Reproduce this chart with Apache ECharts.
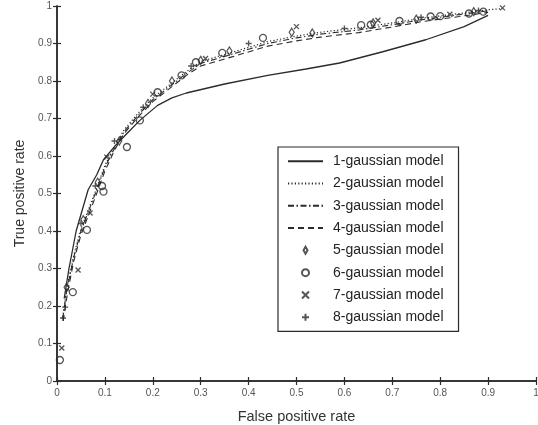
<!DOCTYPE html>
<html><head><meta charset="utf-8">
<script src="https://cdn.jsdelivr.net/npm/echarts@6/dist/echarts.min.js"></script>
<style>html,body{margin:0;padding:0;background:#fff}#c{width:538px;height:425px}</style>
</head><body><div id="c"></div>
<script>
// ---- data ----
const xTicks = [0,0.1,0.2,0.3,0.4,0.5,0.6,0.7,0.8,0.9,1];
const yTicks = [0,0.1,0.2,0.3,0.4,0.5,0.6,0.7,0.8,0.9,1];
const seriesNames = ['1-gaussian model','2-gaussian model','3-gaussian model','4-gaussian model','5-gaussian model','6-gaussian model','7-gaussian model','8-gaussian model'];

const fpr1 = [0.015,0.025,0.04,0.065,0.083,0.097,0.12,0.146,0.173,0.21,0.24,0.27,0.35,0.44,0.52,0.59,0.68,0.77,0.85,0.9];
const tpr1 = [0.22,0.30,0.40,0.51,0.55,0.59,0.625,0.66,0.695,0.735,0.755,0.768,0.792,0.815,0.832,0.848,0.878,0.91,0.945,0.975];

const fpr2 = [0.012,0.02,0.035,0.05,0.065,0.08,0.1,0.12,0.14,0.17,0.2,0.23,0.27,0.3,0.367,0.44,0.5,0.55,0.63,0.7,0.76,0.84,0.9,0.93];
const tpr2 = [0.17,0.245,0.335,0.405,0.455,0.505,0.575,0.625,0.67,0.715,0.755,0.785,0.825,0.852,0.877,0.905,0.92,0.93,0.942,0.955,0.967,0.98,0.99,0.993];

const fpr3 = [0.012,0.02,0.035,0.05,0.065,0.08,0.1,0.12,0.14,0.17,0.2,0.23,0.27,0.3,0.367,0.44,0.5,0.55,0.63,0.7,0.76,0.84,0.9];
const tpr3 = [0.165,0.24,0.33,0.40,0.45,0.50,0.57,0.62,0.665,0.71,0.75,0.78,0.82,0.847,0.872,0.9,0.915,0.925,0.936,0.95,0.963,0.977,0.987];

const fpr4 = [0.013,0.022,0.035,0.05,0.065,0.08,0.1,0.12,0.14,0.17,0.2,0.23,0.27,0.3,0.367,0.44,0.5,0.55,0.63,0.7,0.76,0.84,0.9];
const tpr4 = [0.16,0.235,0.32,0.39,0.44,0.49,0.56,0.615,0.66,0.705,0.745,0.775,0.815,0.84,0.865,0.893,0.907,0.917,0.929,0.944,0.958,0.972,0.983];

const fpr5 = [0.02,0.055,0.085,0.13,0.19,0.24,0.3,0.36,0.49,0.533,0.66,0.75,0.87];
const tpr5 = [0.25,0.43,0.53,0.64,0.74,0.80,0.855,0.88,0.93,0.928,0.955,0.965,0.985];

const fpr6 = [0.006,0.033,0.0625,0.094,0.097,0.146,0.173,0.21,0.26,0.29,0.345,0.43,0.635,0.655,0.715,0.78,0.80,0.86,0.89];
const tpr6 = [0.056,0.237,0.403,0.52,0.505,0.624,0.695,0.77,0.815,0.85,0.875,0.915,0.949,0.95,0.96,0.972,0.973,0.98,0.985];

const fpr7 = [0.01,0.044,0.069,0.104,0.2,0.31,0.5,0.67,0.82,0.93];
const tpr7 = [0.088,0.296,0.448,0.597,0.765,0.86,0.945,0.962,0.978,0.995];

const fpr8 = [0.0125,0.017,0.05,0.08,0.12,0.18,0.28,0.4,0.6,0.76,0.88];
const tpr8 = [0.168,0.197,0.42,0.52,0.64,0.73,0.84,0.9,0.94,0.97,0.988];

// ---- chart ----
const zip = (a,b) => a.map((v,i)=>[v,b[i]]);
const fmt = v => { const r = Math.round(v*10)/10; return r===0?'0':(r===1?'1':String(r)); };
const ink = '#2b2b2b';
const font = '"Liberation Sans", Arial, sans-serif';
const DIAMOND = 'path://M5,0L9,7L5,14L1,7Z';
const CROSS = 'path://M0,0L10,10M10,0L0,10';
const PLUS = 'path://M5,0L5,10M0,5L10,5';
const HIDE_SYM = {color:'rgba(0,0,0,0)', borderColor:'rgba(0,0,0,0)', borderWidth:0, opacity:0};

const axisCommon = {
  type:'value', min:0, max:1, interval:0.1,
  axisLine:{show:true, lineStyle:{color:ink, width:1.5}},
  axisTick:{show:true, inside:true, length:4, lineStyle:{color:ink, width:1.2}},
  splitLine:{show:false}
};

const lineSeries = (name, xs, ys, type, width) => ({
  name, type:'line', data: zip(xs,ys), symbol:'none', showSymbol:false, smooth:false,
  lineStyle:{color:ink, width, type}, itemStyle:{color:ink}, z:2
});
const markSeries = (name, xs, ys, symbol, size) => ({
  name, type:'scatter', data: zip(xs,ys), symbol, symbolSize:size,
  itemStyle:{color:'rgba(0,0,0,0)', borderColor:ink, borderWidth:1.3}, z:3
});

const chart = echarts.init(document.getElementById('c'), null, {renderer:'canvas'});
chart.setOption({
  animation:false,
  backgroundColor:'#fff',
  textStyle:{fontFamily:font},
  grid:{left:57, right:2, top:6, bottom:44, containLabel:false, outerBoundsMode:'none'},
  xAxis:[
    Object.assign({}, axisCommon, {position:'bottom',
      name:'False positive rate', nameLocation:'middle', nameGap:28,
      nameTextStyle:{fontSize:14.5, color:'#333', fontFamily:font},
      axisLabel:{show:true, margin:7, fontSize:10, color:'#555', fontFamily:font,
        formatter: v => { const i = xTicks.findIndex(t=>Math.abs(t-v)<1e-6); return i>=0?fmt(xTicks[i]):''; }}}),
    Object.assign({}, axisCommon, {position:'top', axisLabel:{show:false}})
  ],
  yAxis:[
    Object.assign({}, axisCommon, {position:'left',
      name:'True positive rate', nameLocation:'middle', nameGap:24,
      nameTextStyle:{fontSize:14, color:'#333', fontFamily:font},
      axisLabel:{show:true, margin:5, fontSize:10, color:'#555', fontFamily:font,
        formatter: v => { const i = yTicks.findIndex(t=>Math.abs(t-v)<1e-6); return i>=0?fmt(yTicks[i]):''; }}}),
    Object.assign({}, axisCommon, {position:'right', axisLabel:{show:false}})
  ],
  legend:{
    show:true, orient:'vertical', left:278, top:147,
    padding:[7,15,7,9], itemGap:8, itemWidth:35, itemHeight:7,
    borderColor:ink, borderWidth:1.2, backgroundColor:'#fff',
    textStyle:{fontSize:14, color:'#222', fontFamily:font, lineHeight:14.3, padding:[0,0,0,5]},
    data: [
      {name:seriesNames[0], icon:'inherit', itemStyle:HIDE_SYM},
      {name:seriesNames[1], icon:'inherit', itemStyle:HIDE_SYM},
      {name:seriesNames[2], icon:'inherit', itemStyle:HIDE_SYM},
      {name:seriesNames[3], icon:'inherit', itemStyle:HIDE_SYM},
      {name:seriesNames[4], icon:DIAMOND},
      {name:seriesNames[5], icon:'circle'},
      {name:seriesNames[6], icon:CROSS},
      {name:seriesNames[7], icon:PLUS}
    ]
  },
  series:[
    lineSeries(seriesNames[0], fpr1, tpr1, 'solid', 1.3),
    lineSeries(seriesNames[1], fpr2, tpr2, [1.2,2.2], 1.2),
    lineSeries(seriesNames[2], fpr3, tpr3, [6,2.5,1.5,2.5], 1.1),
    lineSeries(seriesNames[3], fpr4, tpr4, [6,4], 1.1),
    markSeries(seriesNames[4], fpr5, tpr5, DIAMOND, [5,8]),
    markSeries(seriesNames[5], fpr6, tpr6, 'circle', 7),
    markSeries(seriesNames[6], fpr7, tpr7, CROSS, 5),
    markSeries(seriesNames[7], fpr8, tpr8, PLUS, 6)
  ]
});
</script>
</body></html>
